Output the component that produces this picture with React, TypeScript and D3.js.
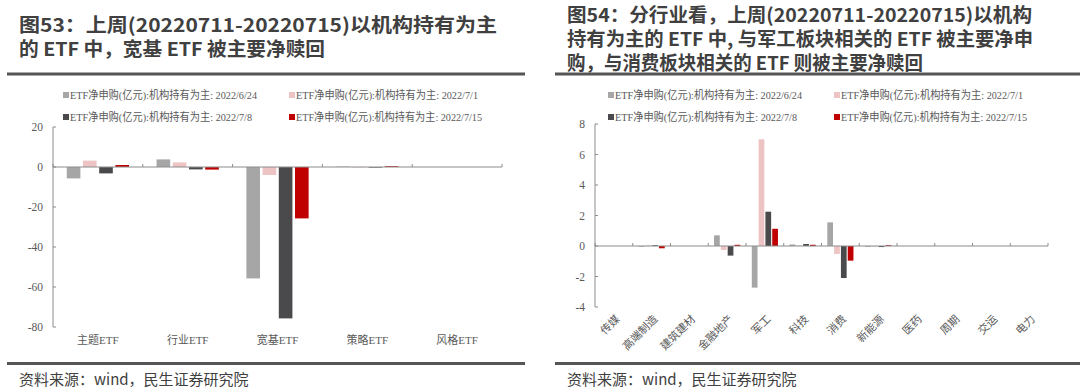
import React from 'react';
import * as d3 from 'd3';

const seriesNames = [
  'ETF净申购(亿元):机构持有为主: 2022/6/24',
  'ETF净申购(亿元):机构持有为主: 2022/7/1',
  'ETF净申购(亿元):机构持有为主: 2022/7/8',
  'ETF净申购(亿元):机构持有为主: 2022/7/15',
];
const seriesColors = ['#A6A6A6', '#EDC3C4', '#4A4A4C', '#C00000'];
const legendWidths = [187, 182, 182, 186];

const leftCategories = ['主题ETF', '行业ETF', '宽基ETF', '策略ETF', '风格ETF'];
const leftS1 = [-5.7, 3.8, -55.7, 0.2, 0];
const leftS2 = [3.2, 2.3, -4.0, -0.2, 0];
const leftS3 = [-3.2, -1.2, -75.7, -0.3, 0];
const leftS4 = [1.0, -1.3, -25.7, 0.4, 0];
const leftTicks = [20, 0, -20, -40, -60, -80];

const rightCategories = ['传媒', '高端制造', '建筑建材', '金融地产', '军工', '科技', '消费', '新能源', '医药', '周期', '交运', '电力'];
const rightS1 = [0, -0.05, 0, 0.7, -2.73, 0.1, 1.55, -0.05, 0, 0, 0, 0];
const rightS2 = [0, 0.03, 0, -0.26, 7.0, 0.03, -0.52, -0.03, 0, 0, 0, 0];
const rightS3 = [0, 0.05, 0, -0.63, 2.25, 0.13, -2.1, -0.07, 0, 0, 0, 0];
const rightS4 = [0, -0.15, 0, 0.08, 1.13, 0.08, -0.96, 0.05, 0, 0, 0, 0];
const rightTicks = [8, 6, 4, 2, 0, -2, -4];

const leftTitle = ['图53：上周(20220711-20220715)以机构持有为主', '的 ETF 中，宽基 ETF 被主要净赎回'];
const rightTitle = [
  '图54：分行业看，上周(20220711-20220715)以机构',
  '持有为主的 ETF 中, 与军工板块相关的 ETF 被主要净申',
  '购，与消费板块相关的 ETF 则被主要净赎回',
];
const sourceText = '资料来源：wind，民生证券研究院';

const SERIF = '"Liberation Serif", "Times New Roman", "Noto Sans CJK SC", serif';
const SANS = '"Noto Sans CJK SC", "Noto Sans", sans-serif';
const AXIS = '#8C8C8C';
const LABEL = '#595959';
const TITLE = '#404040';

type PanelProps = {
  categories: string[];
  series: number[][];
  ticks: number[];
  xRange: [number, number];
  yDomain: [number, number];
  yRange: [number, number];
  rotate: boolean;
  legendX: [number, number];
};

function Panel({ categories, series, ticks, xRange, yDomain, yRange, rotate, legendX }: PanelProps) {
  const x0 = d3.scaleBand<string>().domain(categories).range(xRange).padding(0);
  const x1 = d3
    .scaleBand<number>()
    .domain(series.map((_, i) => i))
    .range([0, x0.bandwidth()])
    .paddingInner(0.16)
    .paddingOuter(0.85);
  const y = d3.scaleLinear().domain(yDomain).range(yRange);
  const y0 = y(0);
  const boundaries = categories.map((c) => x0(c)!).concat([xRange[1]]);
  const legendRows = [95, 117];
  return (
    <g>
      {series.map((_, i) => {
        const lx = legendX[i % 2];
        const ly = legendRows[Math.floor(i / 2)];
        return (
          <g key={'lg' + i}>
            <rect x={lx} y={ly - 3} width={6} height={6} fill={seriesColors[i]} />
            <text
              x={lx + 7}
              y={ly + 4}
              fontFamily={SERIF}
              fontSize={11}
              fill={LABEL}
              textLength={legendWidths[i]}
              lengthAdjust="spacingAndGlyphs"
            >
              {seriesNames[i]}
            </text>
          </g>
        );
      })}
      {categories.map((c, ci) => (
        <g key={c} transform={`translate(${x0(c)},0)`}>
          {series.map((s, si) => {
            const v = s[ci];
            const yy = y(v);
            return (
              <rect
                key={si}
                x={x1(si)}
                y={Math.min(yy, y0)}
                width={x1.bandwidth()}
                height={Math.abs(yy - y0)}
                fill={seriesColors[si]}
              />
            );
          })}
        </g>
      ))}
      <line x1={xRange[0]} x2={xRange[0]} y1={yRange[1]} y2={yRange[0]} stroke={AXIS} strokeWidth={1} />
      {ticks.map((t) => (
        <g key={'t' + t}>
          <line x1={xRange[0]} x2={xRange[0] + 3} y1={y(t)} y2={y(t)} stroke={AXIS} />
          <text x={xRange[0] - 10} y={y(t)} dy="0.35em" textAnchor="end" fontFamily={SERIF} fontSize={11.5} fill={LABEL}>
            {t}
          </text>
        </g>
      ))}
      <line x1={xRange[0]} x2={xRange[1]} y1={y0} y2={y0} stroke={AXIS} strokeWidth={1} />
      {boundaries.map((b, i) => (
        <line key={'b' + i} x1={b} x2={b} y1={y0} y2={y0 - 3} stroke={AXIS} />
      ))}
      {categories.map((c) => {
        const cx = x0(c)! + x0.bandwidth() / 2;
        return rotate ? (
          <text
            key={'l' + c}
            transform={`translate(${cx + 4},317) rotate(-45)`}
            dy="0.35em"
            textAnchor="end"
            fontFamily={SERIF}
            fontSize={11}
            fill={LABEL}
          >
            {c}
          </text>
        ) : (
          <text key={'l' + c} x={cx} y={344} textAnchor="middle" fontFamily={SERIF} fontSize={11} fill={LABEL}>
            {c}
          </text>
        );
      })}
    </g>
  );
}

export default function App() {
  return (
    <svg
      width={1080}
      height={392}
      viewBox="0 0 1080 392"
      style={{ position: 'absolute', left: 0, top: 0, background: '#fff' }}
    >
      <rect width={1080} height={392} fill="#fff" />
      {leftTitle.map((t, i) => (
        <text
          key={'lt' + i}
          x={19}
          y={32 + i * 23.5}
          fontFamily={SANS}
          fontWeight={700}
          fontSize={19}
          fill={TITLE}
          textLength={i === 0 ? 478 : 306}
          lengthAdjust="spacingAndGlyphs"
        >
          {t}
        </text>
      ))}
      {rightTitle.map((t, i) => (
        <text
          key={'rt' + i}
          x={567}
          y={21.5 + i * 24}
          fontFamily={SANS}
          fontWeight={700}
          fontSize={19}
          fill={TITLE}
          textLength={i === 0 ? 465 : i === 1 ? 466 : 356}
          lengthAdjust="spacingAndGlyphs"
        >
          {t}
        </text>
      ))}
      <line x1={7} x2={525} y1={74} y2={74} stroke="#555" strokeWidth={3} />
      <line x1={555} x2={1080} y1={74} y2={74} stroke="#555" strokeWidth={3} />

      <Panel
        categories={leftCategories}
        series={[leftS1, leftS2, leftS3, leftS4]}
        ticks={leftTicks}
        xRange={[53, 502]}
        yDomain={[-80, 20]}
        yRange={[327, 127]}
        rotate={false}
        legendX={[63, 289]}
      />
      <Panel
        categories={rightCategories}
        series={[rightS1, rightS2, rightS3, rightS4]}
        ticks={rightTicks}
        xRange={[595, 1048]}
        yDomain={[-4, 8]}
        yRange={[307, 124]}
        rotate={true}
        legendX={[608, 834]}
      />

      <line x1={7} x2={525} y1={363.5} y2={363.5} stroke="#555" strokeWidth={3} />
      <line x1={555} x2={1080} y1={363.5} y2={363.5} stroke="#555" strokeWidth={3} />
      <text x={19} y={385} fontFamily={SANS} fontSize={15} fill={TITLE}>
        {sourceText}
      </text>
      <text x={567} y={385} fontFamily={SANS} fontSize={15} fill={TITLE}>
        {sourceText}
      </text>
    </svg>
  );
}
